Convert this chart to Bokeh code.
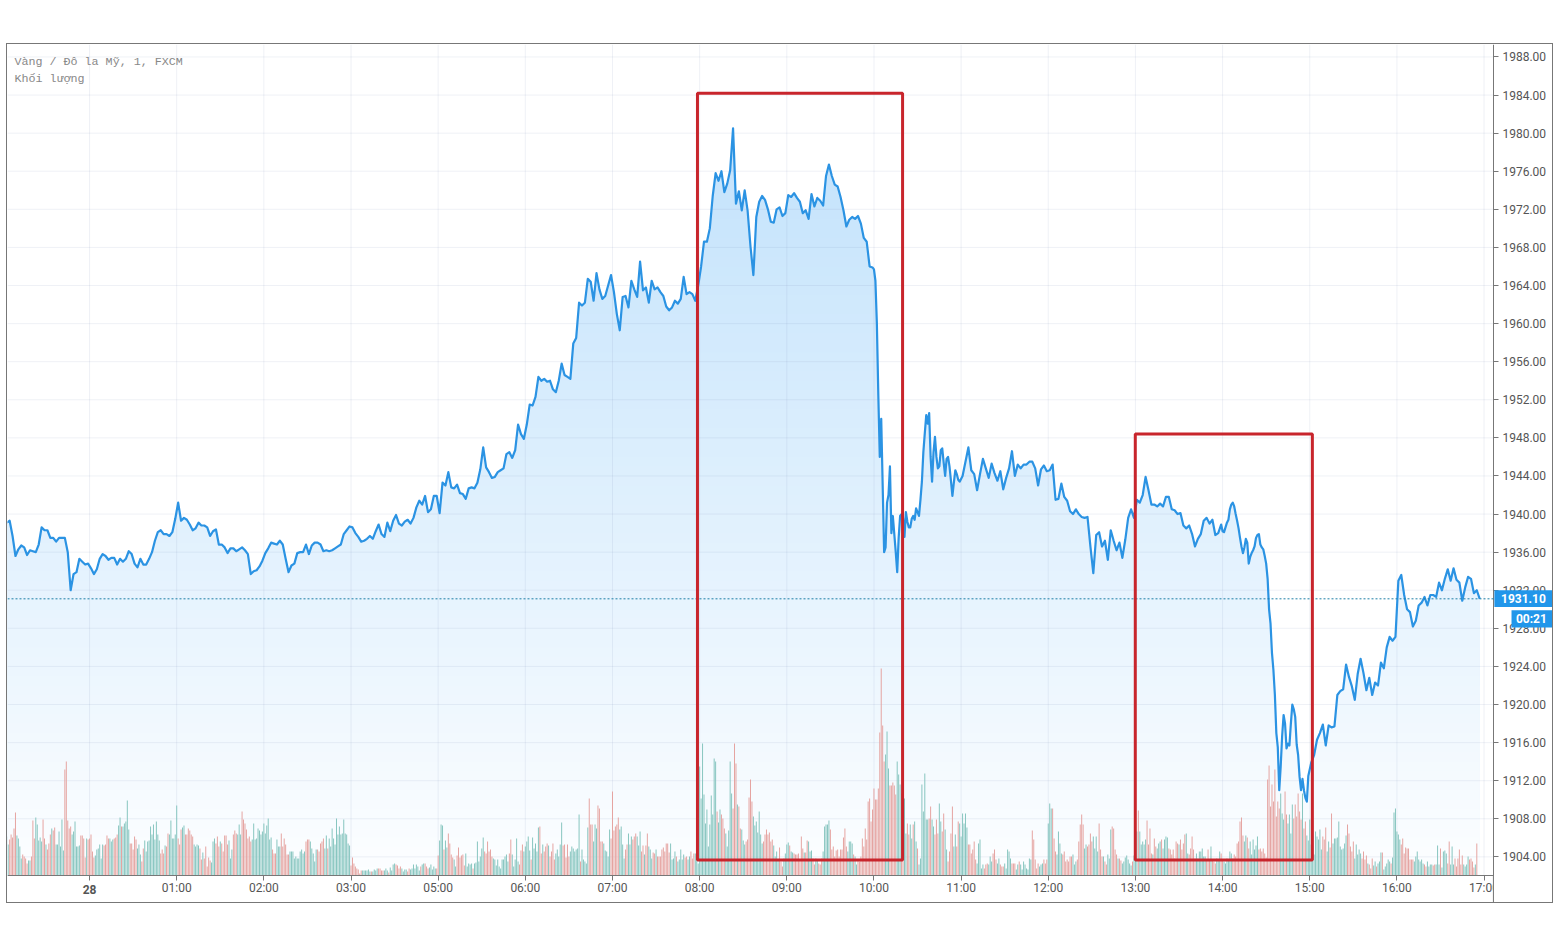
from bokeh.plotting import figure
from bokeh.models import (BoxAnnotation, ColumnDataSource, FixedTicker, Label,
                          NumeralTickFormatter, Range1d, Span)
from bokeh.embed import file_html
from bokeh.resources import INLINE
import numpy as np

# XAU/USD 1 minute. x axis = bars since "28" 00:00
price_pre = [1939.1, 1939.3, 1937.7, 1935.6, 1936.3, 1936.7, 1936.5, 1935.7, 1936.2, 1936.1,
             1936.0, 1936.8, 1938.6, 1938.3, 1938.3, 1937.5, 1937.5, 1937.1, 1937.5, 1937.5,
             1937.5, 1936.0, 1932.0, 1933.7, 1933.9, 1935.3, 1935.0, 1934.7, 1934.8]
price_00 = [1934.3, 1933.7, 1934.2, 1935.3, 1935.8, 1935.6, 1935.2, 1935.4, 1935.4, 1934.7,
            1935.3, 1935.0, 1935.3, 1936.1, 1935.8, 1934.8, 1934.4, 1935.3, 1934.7, 1934.7,
            1935.3, 1936.0, 1937.2, 1938.1, 1938.3, 1937.9, 1937.9, 1937.7, 1938.1, 1939.5]
price_01 = [1941.2, 1939.3, 1939.6, 1939.4, 1938.9, 1938.3, 1938.5, 1939.1, 1938.8, 1938.8,
            1938.6, 1937.7, 1938.2, 1938.4, 1936.8, 1936.8, 1936.5, 1935.9, 1936.4, 1936.4,
            1936.1, 1936.3, 1936.5, 1936.2, 1935.8, 1933.7, 1934.0, 1934.1, 1934.5, 1935.1]
price_02 = [1935.9, 1936.4, 1937.0, 1936.9, 1936.8, 1937.2, 1936.8, 1935.3, 1933.9, 1934.6,
            1934.8, 1935.9, 1936.0, 1936.0, 1936.8, 1935.8, 1936.7, 1937.0, 1937.0, 1936.8,
            1936.1, 1936.2, 1936.1, 1936.2, 1936.4, 1936.6, 1936.8, 1937.9, 1938.3, 1938.7]
price_03 = [1938.6, 1938.0, 1937.6, 1937.1, 1937.2, 1937.4, 1937.7, 1937.4, 1938.2, 1938.9,
            1937.9, 1937.6, 1939.1, 1938.2, 1939.3, 1939.9, 1939.0, 1938.8, 1939.2, 1939.4,
            1939.0, 1939.6, 1940.7, 1941.4, 1941.0, 1941.9, 1940.2, 1940.5, 1941.9, 1941.9]
price_05 = [1940.1, 1943.3, 1943.0, 1944.4, 1942.8, 1942.7, 1943.1, 1942.2, 1942.1, 1941.6,
            1942.7, 1942.8, 1942.7, 1943.3, 1944.7, 1947.0, 1944.9, 1944.4, 1943.8, 1943.9,
            1944.4, 1944.6, 1944.8, 1946.3, 1946.5, 1945.9, 1946.7, 1949.4, 1948.4, 1947.9]
price_06 = [1949.4, 1951.5, 1951.4, 1952.3, 1954.4, 1954.0, 1954.2, 1953.9, 1954.0, 1953.1,
            1952.8, 1954.0, 1955.8, 1954.6, 1954.4, 1954.2, 1957.9, 1958.5, 1962.2, 1961.9,
            1962.2, 1964.7, 1964.4, 1962.4, 1965.3, 1963.6, 1962.6, 1962.9, 1964.0, 1965.1]
price_07 = [1963.3, 1961.0, 1959.3, 1962.8, 1962.9, 1961.7, 1964.5, 1963.6, 1962.8, 1966.5,
            1963.5, 1963.8, 1962.2, 1964.5, 1963.6, 1963.8, 1963.3, 1962.9, 1961.8, 1961.4,
            1961.7, 1962.4, 1962.1, 1962.6, 1964.9, 1963.1, 1963.3, 1963.1, 1962.4, 1964.0]
price_08 = [1966.0, 1968.6, 1968.6, 1970.0, 1973.4, 1975.8, 1975.0, 1976.0, 1973.8, 1974.7,
            1976.1, 1980.5, 1972.6, 1973.9, 1971.9, 1974.0, 1971.9, 1968.1, 1965.1, 1971.2,
            1972.8, 1973.4, 1973.0, 1972.0, 1970.7, 1970.6, 1972.0, 1972.2, 1971.3, 1971.6]
price_09 = [1973.5, 1973.3, 1973.7, 1973.2, 1972.8, 1971.6, 1971.9, 1971.0, 1973.6, 1972.3,
            1973.2, 1972.9, 1972.4, 1975.5, 1976.7, 1975.5, 1974.6, 1974.4, 1973.3, 1971.9,
            1970.2, 1970.9, 1971.2, 1971.0, 1971.3, 1970.5, 1969.0, 1968.6, 1966.0, 1965.9]
price_10 = [1965.7, 1964.5, 1960.0, 1952.5, 1946.0, 1950.0, 1943.0, 1936.0, 1936.5, 1941.2,
            1942.0, 1945.0, 1938.0, 1939.8, 1937.9, 1936.0, 1933.9, 1937.5, 1939.8, 1940.0,
            1939.6, 1937.6, 1940.2, 1939.2, 1938.6, 1938.6, 1939.5, 1939.8, 1939.4, 1940.6,
            1940.2, 1939.8, 1941.5, 1943.4, 1946.5, 1948.5, 1950.4, 1949.5, 1950.6, 1946.0,
            1943.4, 1946.5, 1948.1, 1946.0, 1944.8, 1945.0, 1946.7, 1946.9, 1945.4, 1944.0,
            1945.8, 1946.0, 1945.0, 1943.5, 1941.9, 1943.3, 1944.6, 1944.2, 1943.6, 1943.4]
price_11 = [1944.0, 1945.5, 1947.0, 1944.6, 1944.2, 1942.5, 1944.2, 1945.8, 1944.8, 1943.8,
            1945.3, 1944.3, 1943.5, 1944.5, 1942.6, 1943.8, 1944.8, 1946.6, 1944.0, 1945.2,
            1944.8, 1945.2, 1945.2, 1945.5, 1945.5, 1944.8, 1943.0, 1944.7, 1945.1, 1944.5]
price_12 = [1944.6, 1945.2, 1941.5, 1941.6, 1943.2, 1941.8, 1941.4, 1940.3, 1940.0, 1940.5,
            1940.0, 1939.7, 1939.6, 1939.7, 1936.6, 1933.8, 1937.8, 1938.1, 1936.6, 1937.2,
            1935.2, 1938.3, 1937.2, 1936.2, 1937.0, 1935.4, 1937.3, 1939.6, 1940.5, 1939.6]
price_13 = [1941.5, 1941.2, 1942.0, 1943.9, 1942.5, 1941.0, 1941.0, 1940.8, 1941.1, 1940.8,
            1941.8, 1941.8, 1940.5, 1940.4, 1940.0, 1940.1, 1938.8, 1938.5, 1938.8, 1937.9,
            1936.6, 1937.4, 1937.9, 1939.3, 1939.6, 1939.0, 1939.4, 1937.8, 1938.0, 1938.9]
price_14 = [1938.2, 1938.1, 1938.6, 1939.1, 1939.4, 1940.5, 1941.0, 1941.2, 1940.8, 1940.0,
            1939.3, 1938.5, 1937.5, 1936.6, 1935.9, 1936.5, 1937.4, 1937.0, 1934.8, 1935.5,
            1935.9, 1936.2, 1936.6, 1937.5, 1937.8, 1937.9, 1936.8, 1936.5, 1936.3, 1935.6,
            1934.8, 1933.2, 1930.0, 1928.5, 1925.4, 1923.6, 1921.0, 1917.0, 1915.5, 1911.0,
            1913.5, 1916.7, 1918.9, 1918.0, 1915.4, 1915.9, 1915.7, 1918.0, 1920.0, 1919.5,
            1918.7, 1915.8, 1914.7, 1912.4, 1911.0, 1912.2, 1911.0, 1910.2, 1909.8, 1912.5]
price_15 = [1913.9, 1914.7, 1916.3, 1917.0, 1917.9, 1915.7, 1917.8, 1917.6, 1917.7, 1921.0,
            1921.4, 1921.6, 1924.2, 1922.9, 1921.9, 1920.5, 1923.2, 1924.8, 1923.3, 1921.5,
            1922.8, 1921.0, 1922.3, 1922.0, 1924.4, 1923.8, 1926.0, 1927.1, 1926.7, 1927.1]
price_16 = [1933.0, 1933.6, 1931.5, 1930.0, 1929.7, 1928.2, 1928.8, 1930.4, 1930.7, 1931.3,
            1930.4, 1931.5, 1931.5, 1931.3, 1932.8, 1932.0, 1933.2, 1934.2, 1933.0, 1934.3,
            1933.1, 1932.8, 1930.9, 1932.3, 1933.4, 1933.2, 1931.7, 1932.0, 1931.1]

vol_pre = [39, 31, 36, 41, 38, 47, 63, 40, 37, 29,
           17, 21, 19, 17, 12, 15, 15, 19, 55, 37,
           58, 51, 35, 38, 34, 56, 37, 31, 26, 32,
           41, 47, 45, 48, 31, 31, 44, 29, 56, 25,
           106, 114, 55, 47, 49, 41, 44, 54, 29, 29,
           30, 40, 40, 37, 18, 37, 36]
vol_00 = [37, 41, 24, 18, 20, 26, 27, 31, 17, 31,
          30, 31, 40, 37, 37, 34, 36, 37, 38, 41,
          50, 58, 49, 49, 52, 54, 75, 46, 32, 32,
          26, 39, 36, 27, 31, 21, 14, 27, 35, 24,
          34, 35, 49, 41, 51, 36, 54, 41, 35, 22,
          26, 22, 30, 29, 42, 41, 55, 37, 37, 41]
vol_01 = [70, 37, 31, 46, 48, 50, 41, 41, 47, 45,
          41, 39, 31, 29, 31, 30, 27, 16, 23, 17,
          29, 9, 18, 15, 13, 34, 37, 32, 39, 29,
          34, 32, 24, 40, 40, 31, 35, 17, 26, 41,
          45, 42, 41, 51, 41, 64, 56, 52, 46, 37,
          39, 34, 36, 52, 36, 37, 47, 45, 41, 44]
vol_02 = [52, 42, 50, 57, 36, 38, 26, 22, 22, 36,
          29, 29, 42, 29, 37, 31, 21, 21, 24, 24,
          24, 17, 19, 17, 17, 24, 26, 22, 24, 34,
          36, 36, 34, 27, 22, 14, 26, 26, 24, 32,
          34, 37, 27, 40, 27, 37, 29, 47, 37, 31,
          57, 41, 49, 41, 42, 56, 42, 41, 32, 30]
vol_03 = [10, 18, 12, 9, 7, 6, 2, 5, 5, 5,
          5, 5, 6, 4, 4, 4, 6, 5, 7, 7,
          7, 5, 5, 5, 7, 5, 3, 8, 5, 11,
          12, 11, 10, 7, 9, 7, 4, 6, 6, 4,
          7, 6, 7, 11, 7, 11, 9, 5, 9, 11,
          12, 12, 9, 7, 8, 11, 6, 9, 7, 7]
vol_05 = [20, 35, 51, 50, 26, 35, 28, 42, 32, 21,
          18, 16, 9, 20, 28, 18, 20, 21, 10, 22,
          9, 12, 11, 12, 7, 12, 13, 34, 14, 19,
          27, 38, 24, 22, 34, 24, 26, 19, 17, 16,
          10, 16, 9, 7, 16, 16, 19, 21, 14, 22,
          36, 21, 9, 16, 37, 14, 11, 25, 31, 24]
vol_06 = [29, 34, 39, 25, 16, 38, 27, 32, 24, 48,
          49, 22, 31, 24, 29, 32, 30, 19, 24, 32,
          16, 22, 26, 19, 31, 53, 30, 31, 18, 31,
          19, 24, 29, 27, 24, 26, 27, 61, 14, 26,
          16, 14, 12, 48, 77, 51, 51, 34, 51, 47,
          70, 67, 34, 34, 32, 25, 24, 19, 46, 37]
vol_07 = [84, 45, 49, 51, 58, 46, 49, 31, 17, 26,
          31, 42, 31, 39, 36, 39, 42, 39, 30, 44,
          24, 30, 21, 30, 42, 29, 26, 17, 23, 22,
          26, 19, 19, 19, 26, 28, 24, 32, 32, 23,
          32, 16, 17, 24, 19, 14, 16, 26, 16, 21,
          18, 19, 16, 19, 24, 17, 22, 22, 17, 12]
vol_08 = [109, 77, 132, 81, 52, 66, 29, 51, 80, 61,
          117, 114, 64, 53, 66, 61, 57, 47, 42, 29,
          45, 114, 82, 67, 132, 112, 71, 69, 47, 46,
          35, 31, 34, 36, 78, 96, 74, 59, 50, 54,
          43, 64, 41, 32, 34, 41, 46, 41, 43, 34,
          36, 30, 19, 24, 16, 28, 14, 9, 17, 22]
vol_09 = [31, 33, 30, 24, 23, 22, 21, 21, 22, 16,
          39, 27, 23, 23, 35, 34, 24, 25, 17, 11,
          17, 16, 12, 11, 17, 24, 49, 51, 51, 55,
          46, 26, 29, 19, 25, 26, 19, 26, 26, 38,
          47, 29, 24, 34, 34, 32, 21, 19, 11, 16,
          14, 19, 37, 29, 47, 36, 74, 77, 54, 66]
vol_10 = [87, 76, 76, 87, 143, 207, 150, 114, 121, 144,
          107, 90, 90, 93, 90, 81, 114, 101, 91, 82,
          82, 77, 42, 52, 41, 51, 37, 51, 54, 34,
          27, 11, 17, 91, 64, 102, 56, 56, 57, 69,
          56, 49, 41, 56, 42, 72, 54, 44, 62, 46,
          26, 14, 24, 42, 69, 29, 41, 29, 54, 52]
vol_11 = [39, 62, 52, 62, 48, 31, 31, 22, 26, 34,
          16, 12, 32, 36, 7, 11, 7, 11, 12, 11,
          19, 14, 22, 26, 16, 12, 17, 11, 9, 9,
          12, 7, 26, 24, 17, 12, 12, 12, 6, 11,
          14, 11, 6, 14, 11, 7, 6, 17, 16, 45,
          36, 16, 7, 12, 9, 11, 12, 16, 12, 16]
vol_12 = [52, 72, 67, 67, 37, 24, 21, 44, 32, 22,
          21, 24, 14, 16, 14, 19, 19, 21, 11, 14,
          16, 34, 51, 61, 51, 27, 31, 29, 31, 42,
          34, 39, 27, 39, 24, 52, 26, 19, 19, 14,
          11, 21, 17, 46, 49, 47, 26, 21, 17, 17,
          15, 12, 14, 18, 20, 16, 12, 10, 14, 20]
vol_13 = [63, 44, 65, 44, 31, 34, 31, 36, 55, 31,
          47, 22, 21, 37, 29, 27, 32, 34, 36, 27,
          36, 39, 38, 27, 26, 21, 26, 17, 34, 32,
          31, 36, 26, 32, 41, 42, 22, 21, 27, 39,
          26, 17, 22, 17, 24, 24, 27, 19, 19, 16,
          26, 16, 29, 16, 14, 12, 17, 16, 24, 22]
vol_14 = [16, 14, 12, 17, 16, 24, 22, 17, 21, 19,
          32, 34, 54, 58, 40, 34, 40, 38, 27, 34,
          21, 36, 26, 30, 39, 26, 27, 24, 27, 22,
          18, 96, 110, 69, 91, 74, 106, 59, 74, 67,
          82, 62, 56, 84, 61, 52, 61, 42, 71, 57,
          71, 59, 82, 64, 56, 82, 47, 54, 40, 35]
vol_15 = [56, 31, 55, 21, 44, 39, 36, 46, 26, 39,
          36, 48, 24, 34, 28, 62, 32, 37, 37, 38,
          54, 29, 26, 27, 32, 40, 51, 42, 29, 24,
          34, 17, 31, 21, 26, 22, 17, 24, 16, 20,
          12, 11, 7, 17, 10, 14, 9, 12, 14, 23,
          23, 6, 9, 12, 16, 14, 12, 18, 63, 67]
vol_16 = [44, 41, 36, 31, 37, 22, 28, 27, 27, 16,
          16, 16, 14, 19, 24, 16, 14, 16, 12, 11,
          9, 14, 9, 11, 11, 10, 11, 11, 30, 11,
          27, 8, 24, 25, 22, 12, 34, 11, 29, 11,
          17, 9, 17, 26, 11, 20, 11, 9, 11, 19,
          16, 17, 14, 8, 11, 32]

hour_ticks = [0, 60, 120, 180, 240, 300, 360, 420, 480, 540, 600, 660, 720, 780, 840, 900, 960]
hour_labels = ["", "01:00", "02:00", "03:00", "05:00", "06:00", "07:00", "08:00", "09:00",
               "10:00", "11:00", "12:00", "13:00", "14:00", "15:00", "16:00", "17:00"]
price_ticks = list(range(1904, 1992, 4))
last_price = 1931.10

# (first bar, bars between values, values)
price_parts = [(-57, 2, price_pre), (1, 2, price_00), (61, 2, price_01), (121, 2, price_02),
               (181, 2, price_03), (241, 2, price_05), (301, 2, price_06), (361, 2, price_07),
               (421, 2, price_08), (481, 2, price_09), (540, 1, price_10), (601, 2, price_11),
               (661, 2, price_12), (721, 2, price_13), (780, 1, price_14), (841, 2, price_15),
               (901, 2, price_16)]
vol_parts = [(-57, vol_pre), (0, vol_00), (60, vol_01), (120, vol_02), (180, vol_03), (240, vol_05),
             (300, vol_06), (360, vol_07), (420, vol_08), (480, vol_09), (540, vol_10), (600, vol_11),
             (660, vol_12), (720, vol_13), (780, vol_14), (840, vol_15), (900, vol_16)]

bars = np.concatenate([start + step * np.arange(len(v)) for start, step, v in price_parts])
price = np.concatenate([v for _, _, v in price_parts])
vol_x = np.concatenate([start + np.arange(len(v)) for start, v in vol_parts])
vol = np.concatenate([v for _, v in vol_parts])

# volume colour follows the direction of the price over that bar
went_up = np.interp(vol_x + 0.5, bars, price) >= np.interp(vol_x - 0.5, bars, price)
vol_colors = ["#86c5bf" if u else "#e5a3a0" for u in went_up]

# the frame covers the whole widget, both axes sit inside it so the tags can overlap them
X_LEFT, X_AXIS, X_RIGHT = -56.48, 966.45, 1008.49
Y_BOTTOM, Y_AXIS, Y_TOP = 1899.0, 1902.05, 1989.31

p = figure(width=1547, height=860, x_range=Range1d(X_LEFT, X_RIGHT), y_range=Range1d(Y_BOTTOM, Y_TOP),
           y_axis_location="right", output_backend="svg", toolbar_location=None,
           min_border_left=0, min_border_right=0, min_border_top=0, min_border_bottom=0)
p.styles = {"position": "absolute", "left": "6px", "top": "43px", "border": "1px solid #777777"}
p.outline_line_color = None
p.extra_y_ranges = {"vol": Range1d(-29, 831)}
p.grid.visible = False

# area gradient: layers painted from the top colour downwards
for level in np.arange(1981, 1902, -1.0):
    a = 0.01 + 0.26 * (level - 1902) / 78
    c = "#%02x%02x%02x" % (round(255 - 222 * a), round(255 - 105 * a), round(255 - 12 * a))
    p.varea(x=bars, y1=Y_AXIS, y2=np.minimum(price, level), fill_color=c, level="image")

# grid stops at the scales
grid_style = dict(line_color="#7a8cb4", line_alpha=0.12, line_width=1, level="underlay")
p.segment(x0=hour_ticks, x1=hour_ticks, y0=Y_AXIS, y1=Y_TOP, **grid_style)
p.segment(x0=X_LEFT, x1=X_AXIS, y0=price_ticks, y1=price_ticks, **grid_style)

src = ColumnDataSource(dict(x=vol_x, top=vol, color=vol_colors))
p.vbar(x="x", top="top", bottom=0, width=0.68, color="color", line_color=None,
       source=src, y_range_name="vol")
p.line(bars, price, line_color="#2b93e3", line_width=2.2, line_join="round")

p.xaxis.ticker = FixedTicker(ticks=hour_ticks)
p.xaxis.major_label_overrides = dict(zip(hour_ticks, hour_labels))
p.xaxis.fixed_location = Y_AXIS
p.xaxis.bounds = (X_LEFT, X_AXIS)
p.yaxis.ticker = FixedTicker(ticks=price_ticks)
p.yaxis.formatter = NumeralTickFormatter(format="0.00")
p.yaxis.fixed_location = X_AXIS
for ax in (p.xaxis[0], p.yaxis[0]):
    ax.axis_line_color = "#777777"
    ax.major_tick_line_color = "#777777"
    ax.major_tick_in = 0
    ax.major_tick_out = 5
    ax.minor_tick_line_color = None
    ax.major_label_text_font = "Roboto"
    ax.major_label_text_color = "#555555"
    ax.major_label_text_font_size = "12px"
p.xaxis.major_label_standoff = 1
p.yaxis.major_label_standoff = 4

p.add_layout(Span(location=last_price, dimension="width", line_color="#1f7fa6",
                  line_dash=[2, 2], line_width=1))

# the two highlighted boxes
for l, r, t, b in [(418.5, 559.7, 1984.2, 1903.68), (719.9, 841.8, 1948.4, 1903.68)]:
    p.add_layout(BoxAnnotation(left=l, right=r, top=t, bottom=b, fill_alpha=0, line_color="#c8252c",
                               line_alpha=1, line_width=3, level="overlay"))

# price scale corner hides the end of the time axis
p.add_layout(BoxAnnotation(left=X_AXIS, right=X_RIGHT, top=Y_AXIS - 0.05, bottom=Y_BOTTOM, fill_color="white",
                           fill_alpha=1, line_alpha=0, level="overlay"))
p.add_layout(BoxAnnotation(left=X_AXIS - 0.35, right=X_AXIS + 0.35, top=Y_AXIS, bottom=Y_BOTTOM, fill_color="#777777",
                           fill_alpha=1, line_alpha=0, level="overlay"))
# last price tags
p.add_layout(BoxAnnotation(left=967.1, right=X_RIGHT, top=1932.0, bottom=1930.25, fill_color="#2196ea", fill_alpha=1,
                           line_alpha=0, level="overlay"))
p.add_layout(BoxAnnotation(left=978.9, right=X_RIGHT, top=1929.9, bottom=1928.1, fill_color="#2196ea", fill_alpha=1,
                           line_alpha=0, level="overlay"))

tag_font = dict(text_font="Roboto", text_font_size="12px", text_color="white", text_font_style="bold",
                text_align="center", text_baseline="middle", level="overlay")
p.add_layout(Label(x=987.1, y=last_price, text="1931.10", **tag_font))
p.add_layout(Label(x=992.6, y=1929.0, text="00:21", **tag_font))

legend_font = dict(text_font="Liberation Mono", text_font_size="11.7px", text_color="#888888",
                   text_baseline="middle", text_align="left")
p.add_layout(Label(x=-51.7, y=1987.5, text="Vàng / Đô la Mỹ, 1, FXCM", **legend_font))
p.add_layout(Label(x=-51.7, y=1985.7, text="Khối lượng", **legend_font))
p.add_layout(Label(x=0, y=1900.6, text="28", text_font="Roboto", text_font_size="12px", text_color="#555555",
                   text_font_style="bold", text_align="center", text_baseline="middle"))

open("out.html", "w").write(file_html(p, INLINE))
